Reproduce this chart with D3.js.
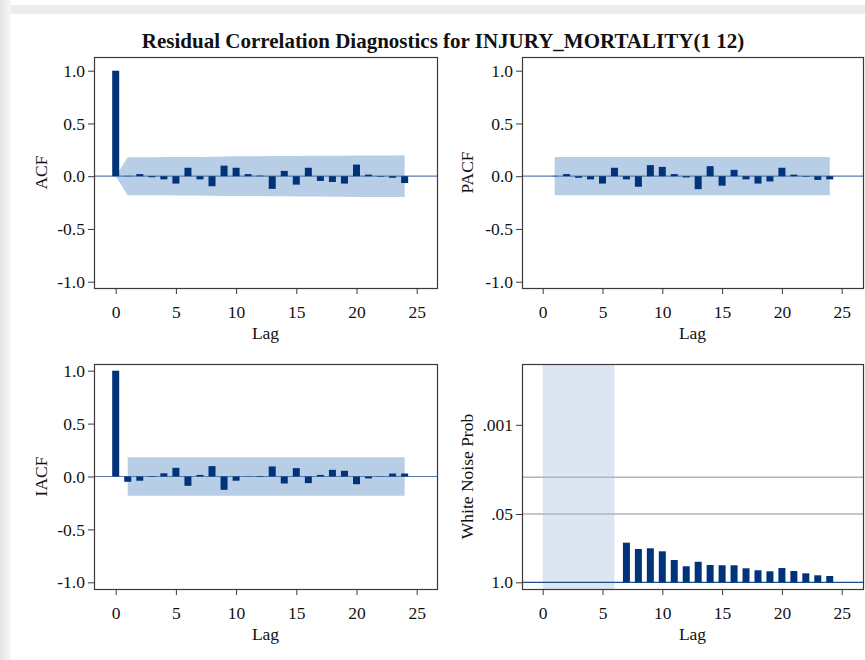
<!DOCTYPE html>
<html>
<head>
<meta charset="utf-8">
<script src="https://cdn.jsdelivr.net/npm/d3@7"></script>
<style>
  html, body { margin: 0; padding: 0; background: #ffffff; }
  svg { display: block; }
</style>
</head>
<body>
<svg id="chart" width="865" height="660" font-family="'Liberation Serif', 'DejaVu Serif', serif"></svg>
<script>
// Lags 0..24
const lags = d3.range(0, 25);

// Autocorrelations of the residuals
const acfValues = [1.0, 0.003, 0.02, -0.01, -0.03, -0.07, 0.08, -0.03, -0.095, 0.10, 0.08, 0.02,
  0.005, -0.12, 0.05, -0.08, 0.08, -0.045, -0.055, -0.07, 0.11, 0.015, -0.005, -0.015, -0.065];
// Two standard error limits for the ACF (lags 1..24), lag 0 has width 0
const acfBand = [0.180, 0.180, 0.180, 0.181, 0.182, 0.183, 0.183, 0.185, 0.187, 0.188, 0.188, 0.188,
  0.191, 0.191, 0.192, 0.193, 0.193, 0.194, 0.195, 0.197, 0.197, 0.197, 0.197, 0.198];

// Partial autocorrelations (lags 1..24)
const pacfValues = [0.003, 0.02, -0.015, -0.03, -0.07, 0.08, -0.03, -0.10, 0.105, 0.088, 0.02, -0.012,
  -0.123, 0.095, -0.09, 0.06, -0.03, -0.07, -0.05, 0.08, 0.015, -0.005, -0.035, -0.03];
const pacfBand = 0.181;

// Inverse autocorrelations (lags 0..24)
const iacfValues = [1.0, -0.05, -0.04, -0.005, 0.03, 0.082, -0.088, 0.015, 0.098, -0.126, -0.04, 0.002,
  -0.005, 0.095, -0.066, 0.079, -0.063, 0.015, 0.063, 0.054, -0.073, -0.018, 0.002, 0.028, 0.028];
const iacfBand = 0.183;

// White noise test p-values (lags 7..24); lags 0..6 have no test (shaded)
const wnLags = d3.range(7, 25);
const wnProb = [0.176, 0.232, 0.225, 0.257, 0.376, 0.495, 0.406, 0.468, 0.474, 0.474, 0.541, 0.590,
  0.617, 0.535, 0.610, 0.675, 0.736, 0.759];
const wnShadeLags = [0, 6];
const wnTicks = [1.0, 0.05, 0.001];
const wnTickLabels = ["1.0", ".05", ".001"];
const wnRefLines = [0.05, 0.01];

const corrTicks = [-1.0, -0.5, 0.0, 0.5, 1.0];
const lagTicks = [0, 5, 10, 15, 20, 25];

const title = "Residual Correlation Diagnostics for INJURY_MORTALITY(1 12)";

const BAR = "#00337a";
const BAND = "#b8cde6";
const ZERO = "#5a7daa";
const SHADE = "#dce6f2";
const GRID = "#b4b4b4";
const FRAME = "#3a3a3a";
const FONT = "'Liberation Serif', 'DejaVu Serif', serif";
const TICK_SIZE = 17.5;
const LABEL_SIZE = 17.5;

const svg = d3.select("#chart");

// Soft gray page edges
svg.append("rect").attr("x", 10).attr("y", 5).attr("width", 855).attr("height", 9).attr("fill", "#ececec");
const grad = svg.append("defs").append("linearGradient").attr("id", "edge").attr("x1", 0).attr("x2", 1);
grad.append("stop").attr("offset", 0).attr("stop-color", "#e4e4e4");
grad.append("stop").attr("offset", 1).attr("stop-color", "#f8f8f8");
svg.append("rect").attr("x", 0).attr("y", 0).attr("width", 11).attr("height", 660).attr("fill", "url(#edge)");

svg.append("text")
  .attr("x", 443).attr("y", 48)
  .attr("text-anchor", "middle")
  .attr("font-size", 21).attr("font-weight", "bold").attr("fill", "#111")
  .text(title);

const LEFT = { fx0: 94, fx1: 437, x0: 115.7, x25: 416.7, labelX: 47 };
const RIGHT = { fx0: 522, fx1: 863, x0: 542.7, x25: 841.7, labelX: 473 };
const TOP = { fy0: 57, fy1: 288, yHi: 70.7, yLo: 281.7 };
const BOTTOM = { fy0: 364, fy1: 589, yHi: 370.7, yLo: 582.3 };

const hyphen = s => s.replace("\u2212", "-");

function styleAxis(sel) {
  sel.attr("font-family", FONT).attr("font-size", TICK_SIZE);
  sel.select(".domain").remove();
  sel.selectAll("line").attr("stroke", FRAME);
  sel.selectAll("text").attr("fill", "#111");
}

function axesAndLabels(g, col, row, yAxisGen, yLabel) {
  const x = d3.scaleLinear().domain([0, 25]).range([col.x0, col.x25]);

  g.append("g").attr("transform", `translate(0,${row.fy1})`)
    .call(d3.axisBottom(x).tickValues(lagTicks).tickFormat(d3.format("d")).tickSize(6).tickPadding(12))
    .call(styleAxis);

  g.append("g").attr("transform", `translate(${col.fx0},0)`)
    .call(yAxisGen)
    .call(styleAxis);

  g.append("text")
    .attr("x", (col.fx0 + col.fx1) / 2).attr("y", row.fy1 + 51)
    .attr("text-anchor", "middle").attr("font-size", LABEL_SIZE).attr("fill", "#111").text("Lag");

  g.append("text")
    .attr("transform", `translate(${col.labelX},${(row.fy0 + row.fy1) / 2}) rotate(-90)`)
    .attr("text-anchor", "middle").attr("font-size", LABEL_SIZE).attr("fill", "#111").text(yLabel);

  return x;
}

function drawFrame(g, col, row) {
  g.append("rect")
    .attr("x", col.fx0 + 0.5).attr("y", row.fy0 + 0.5)
    .attr("width", col.fx1 - col.fx0).attr("height", row.fy1 - row.fy0)
    .attr("fill", "none").attr("stroke", FRAME).attr("stroke-width", 1.2);
}

function corrPanel(col, row, values, startLag, bandUpper, bandStartsAtZero, yLabel) {
  const g = svg.append("g");
  const y = d3.scaleLinear().domain([-1, 1]).range([row.yLo, row.yHi]);
  const yAxisGen = d3.axisLeft(y).tickValues(corrTicks)
    .tickFormat(d => hyphen(d3.format(".1f")(d))).tickSize(6).tickPadding(3);
  const x = axesAndLabels(g, col, row, yAxisGen, yLabel);

  // confidence band
  const bandLags = d3.range(1, 25);
  const up = bandLags.map((l, i) => [l, Array.isArray(bandUpper) ? bandUpper[i] : bandUpper]);
  let pts = [];
  if (bandStartsAtZero) pts.push([0, 0]);
  pts = pts.concat(up);
  pts = pts.concat(up.slice().reverse().map(([l, v]) => [l, -v]));
  g.append("path")
    .attr("d", d3.line().x(d => x(d[0])).y(d => y(d[1]))(pts) + "Z")
    .attr("fill", BAND);

  // zero line
  g.append("line")
    .attr("x1", col.fx0).attr("x2", col.fx1)
    .attr("y1", y(0)).attr("y2", y(0))
    .attr("stroke", ZERO).attr("stroke-width", 1.2);

  // bars
  const bw = 7;
  g.selectAll("rect.bar").data(values.map((v, i) => ({ lag: startLag + i, v })))
    .join("rect").attr("class", "bar")
    .attr("x", d => x(d.lag) - bw / 2)
    .attr("width", bw)
    .attr("y", d => y(Math.max(0, d.v)))
    .attr("height", d => Math.abs(y(d.v) - y(0)))
    .attr("fill", BAR);

  drawFrame(g, col, row);
}

corrPanel(LEFT, TOP, acfValues, 0, acfBand, true, "ACF");
corrPanel(RIGHT, TOP, pacfValues, 1, pacfBand, false, "PACF");
corrPanel(LEFT, BOTTOM, iacfValues, 0, iacfBand, false, "IACF");

// White noise probability panel, on a -log10(p) scale
(function () {
  const col = RIGHT, row = BOTTOM;
  const g = svg.append("g");
  const unit = 52.5;
  const lin = d3.scaleLinear().domain([0, 1]).range([row.yLo, row.yLo - unit]);
  const y = p => lin(-Math.log10(p));

  const yAxisGen = d3.axisLeft(lin)
    .tickValues(wnTicks.map(p => -Math.log10(p)))
    .tickFormat((d, i) => wnTickLabels[i])
    .tickSize(6).tickPadding(3);

  // shaded lags without a test, drawn beneath the axes
  const x = d3.scaleLinear().domain([0, 25]).range([col.x0, col.x25]);
  g.append("rect")
    .attr("x", x(wnShadeLags[0])).attr("width", x(wnShadeLags[1]) - x(wnShadeLags[0]))
    .attr("y", row.fy0).attr("height", row.fy1 - row.fy0)
    .attr("fill", SHADE);

  g.selectAll("line.ref").data(wnRefLines).join("line").attr("class", "ref")
    .attr("x1", col.fx0).attr("x2", col.fx1)
    .attr("y1", d => y(d)).attr("y2", d => y(d))
    .attr("stroke", GRID).attr("stroke-width", 1.5);

  axesAndLabels(g, col, row, yAxisGen, "White Noise Prob");

  g.append("line")
    .attr("x1", col.fx0).attr("x2", col.fx1)
    .attr("y1", y(1)).attr("y2", y(1))
    .attr("stroke", "#1f4e8c").attr("stroke-width", 1.2);

  const bw = 7;
  g.selectAll("rect.bar").data(wnLags.map((l, i) => ({ lag: l, p: wnProb[i] })))
    .join("rect").attr("class", "bar")
    .attr("x", d => x(d.lag) - bw / 2)
    .attr("width", bw)
    .attr("y", d => y(d.p))
    .attr("height", d => y(1) - y(d.p))
    .attr("fill", BAR);

  drawFrame(g, col, row);
})();
</script>
</body>
</html>
